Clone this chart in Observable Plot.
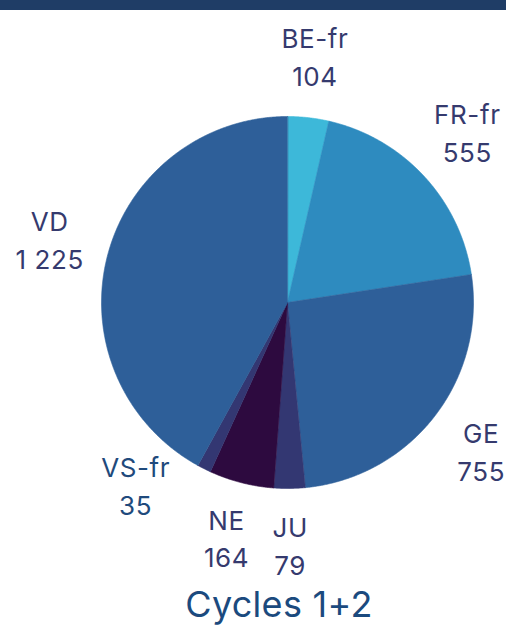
<!DOCTYPE html>
<html>
<head>
<meta charset="utf-8">
<script src="https://cdn.jsdelivr.net/npm/d3@7"></script>
<script src="https://cdn.jsdelivr.net/npm/@observablehq/plot@0.6"></script>
<style>
  html, body { margin: 0; padding: 0; background: #fff; overflow: hidden; }
  #bar { height: 10px; background: #1f3d66; }
  #title { height: 41px; line-height: 38px; font-family: Inter, sans-serif; font-size: 36px;
           color: #1b4a7e; text-align: center; padding-left: 52px; letter-spacing: 0.3px; }
  #chart svg text { letter-spacing: 0.6px; }
</style>
</head>
<body>
<div id="bar"></div>
<div id="chart"></div>
<div id="title">Cycles 1+2</div>
<script>
const labels = ["BE-fr", "FR-fr", "GE", "JU", "NE", "VS-fr", "VD"];
const values = [104, 555, 755, 79, 164, 35, 1225];
const valueLabels = ["104", "555", "755", "79", "164", "35", "1 225"];
const colors = ["#3db8d9", "#2e8bbf", "#2e5f99", "#333772", "#2d0a3f", "#333772", "#2e5f99"];
const labelColors = ["#353a6e", "#353a6e", "#353a6e", "#353a6e", "#353a6e", "#1f4a7c", "#353a6e"];

const W = 506, H = 575, cx = 287, cy = 292, R = 186;

const arcs = d3.pie().sort(null).value(d => d)(values);

// slice outlines in radius units (y up), derived from the pie angles
const pts = [];
arcs.forEach((a, i) => {
  pts.push({k: labels[i], x: 0, y: 0});
  const n = Math.max(2, Math.ceil((a.endAngle - a.startAngle) / 0.005));
  for (let j = 0; j <= n; j++) {
    const t = a.startAngle + (a.endAngle - a.startAngle) * j / n;
    pts.push({k: labels[i], x: Math.sin(t), y: Math.cos(t)});
  }
});

// label positions outside the pie along mid-angle; small nudge to avoid collisions
const nudge = {"VS-fr": {da: 0.22, dr: -0.03}};
const lab = arcs.map((a, i) => {
  const m = (a.startAngle + a.endAngle) / 2 + (nudge[labels[i]]?.da || 0);
  const r = 1.32 + (nudge[labels[i]]?.dr || 0);
  return {k: labels[i], text: labels[i] + "\n" + valueLabels[i], x: r * Math.sin(m), y: r * Math.cos(m), c: labelColors[i]};
});

const chart = Plot.plot({
  width: W,
  height: H,
  margin: 0,
  x: {domain: [-cx / R, (W - cx) / R], axis: null},
  y: {domain: [-(H - cy) / R, cy / R], axis: null},
  color: {domain: labels, range: colors},
  marks: [
    Plot.line(pts, {x: "x", y: "y", z: "k", fill: "k", stroke: "k", strokeWidth: 0.6, curve: "linear-closed"}),
    Plot.text(lab, {x: "x", y: "y", text: "text", fill: d => d.c, fontSize: 26, lineHeight: 1.46, dy: -4,
                    fontFamily: "Inter, sans-serif", textAnchor: "middle"})
  ]
});
document.getElementById("chart").appendChild(chart);
</script>
</body>
</html>
